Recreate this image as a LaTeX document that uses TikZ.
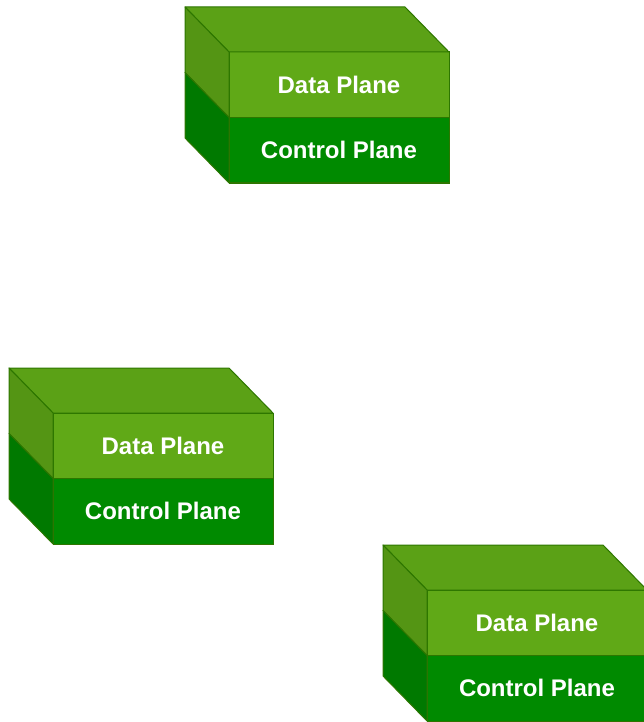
\documentclass[tikz,border=0pt]{standalone}
\usepackage{fontspec}
\setmainfont{Liberation Sans}
\usepackage{xcolor}
\usetikzlibrary{positioning}

\definecolor{dataGreen}{HTML}{60A917}
\definecolor{ctrlGreen}{HTML}{008A00}
\definecolor{edgeGreen}{HTML}{2D7600}

\tikzset{
  plane/.style={draw=edgeGreen, line width=1pt, minimum width=220pt, minimum height=65.5pt,
    inner sep=0pt, outer sep=0pt, text=white, font=\bfseries\fontsize{24}{28}\selectfont},
  dataplane/.style={plane, fill=dataGreen},
  ctrlplane/.style={plane, fill=ctrlGreen},
  topface/.style={draw=edgeGreen, line width=1pt, line join=round, fill=dataGreen!95!black},
  sideface/.style={draw=edgeGreen, line width=1pt, line join=round, fill=#1!88!black}
}

\begin{document}
\begin{tikzpicture}[x=1pt, y=-1pt]
\useasboundingbox (0,0) rectangle (643,722);

% top switch
\node[dataplane, anchor=north west] (data1) at (229,52) {Data Plane};
\node[ctrlplane, below=0pt of data1] (ctrl1) {Control Plane};
\draw[topface] (data1.north west) -- ++(-44,-45) -- ([shift={(-44,-45)}]data1.north east) -- (data1.north east) -- cycle;
\draw[sideface=dataGreen] (data1.north west) -- ++(-44,-45) -- ([shift={(-44,-45)}]data1.south west) -- (data1.south west) -- cycle;
\draw[sideface=ctrlGreen] (ctrl1.north west) -- ++(-44,-45) -- ([shift={(-44,-45)}]ctrl1.south west) -- (ctrl1.south west) -- cycle;

% left switch
\node[dataplane, anchor=north west] (data2) at (53,413) {Data Plane};
\node[ctrlplane, below=0pt of data2] (ctrl2) {Control Plane};
\draw[topface] (data2.north west) -- ++(-44,-45) -- ([shift={(-44,-45)}]data2.north east) -- (data2.north east) -- cycle;
\draw[sideface=dataGreen] (data2.north west) -- ++(-44,-45) -- ([shift={(-44,-45)}]data2.south west) -- (data2.south west) -- cycle;
\draw[sideface=ctrlGreen] (ctrl2.north west) -- ++(-44,-45) -- ([shift={(-44,-45)}]ctrl2.south west) -- (ctrl2.south west) -- cycle;

% right switch
\node[dataplane, anchor=north west] (data3) at (427,590) {Data Plane};
\node[ctrlplane, below=0pt of data3] (ctrl3) {Control Plane};
\draw[topface] (data3.north west) -- ++(-44,-45) -- ([shift={(-44,-45)}]data3.north east) -- (data3.north east) -- cycle;
\draw[sideface=dataGreen] (data3.north west) -- ++(-44,-45) -- ([shift={(-44,-45)}]data3.south west) -- (data3.south west) -- cycle;
\draw[sideface=ctrlGreen] (ctrl3.north west) -- ++(-44,-45) -- ([shift={(-44,-45)}]ctrl3.south west) -- (ctrl3.south west) -- cycle;

\end{tikzpicture}
\end{document}
